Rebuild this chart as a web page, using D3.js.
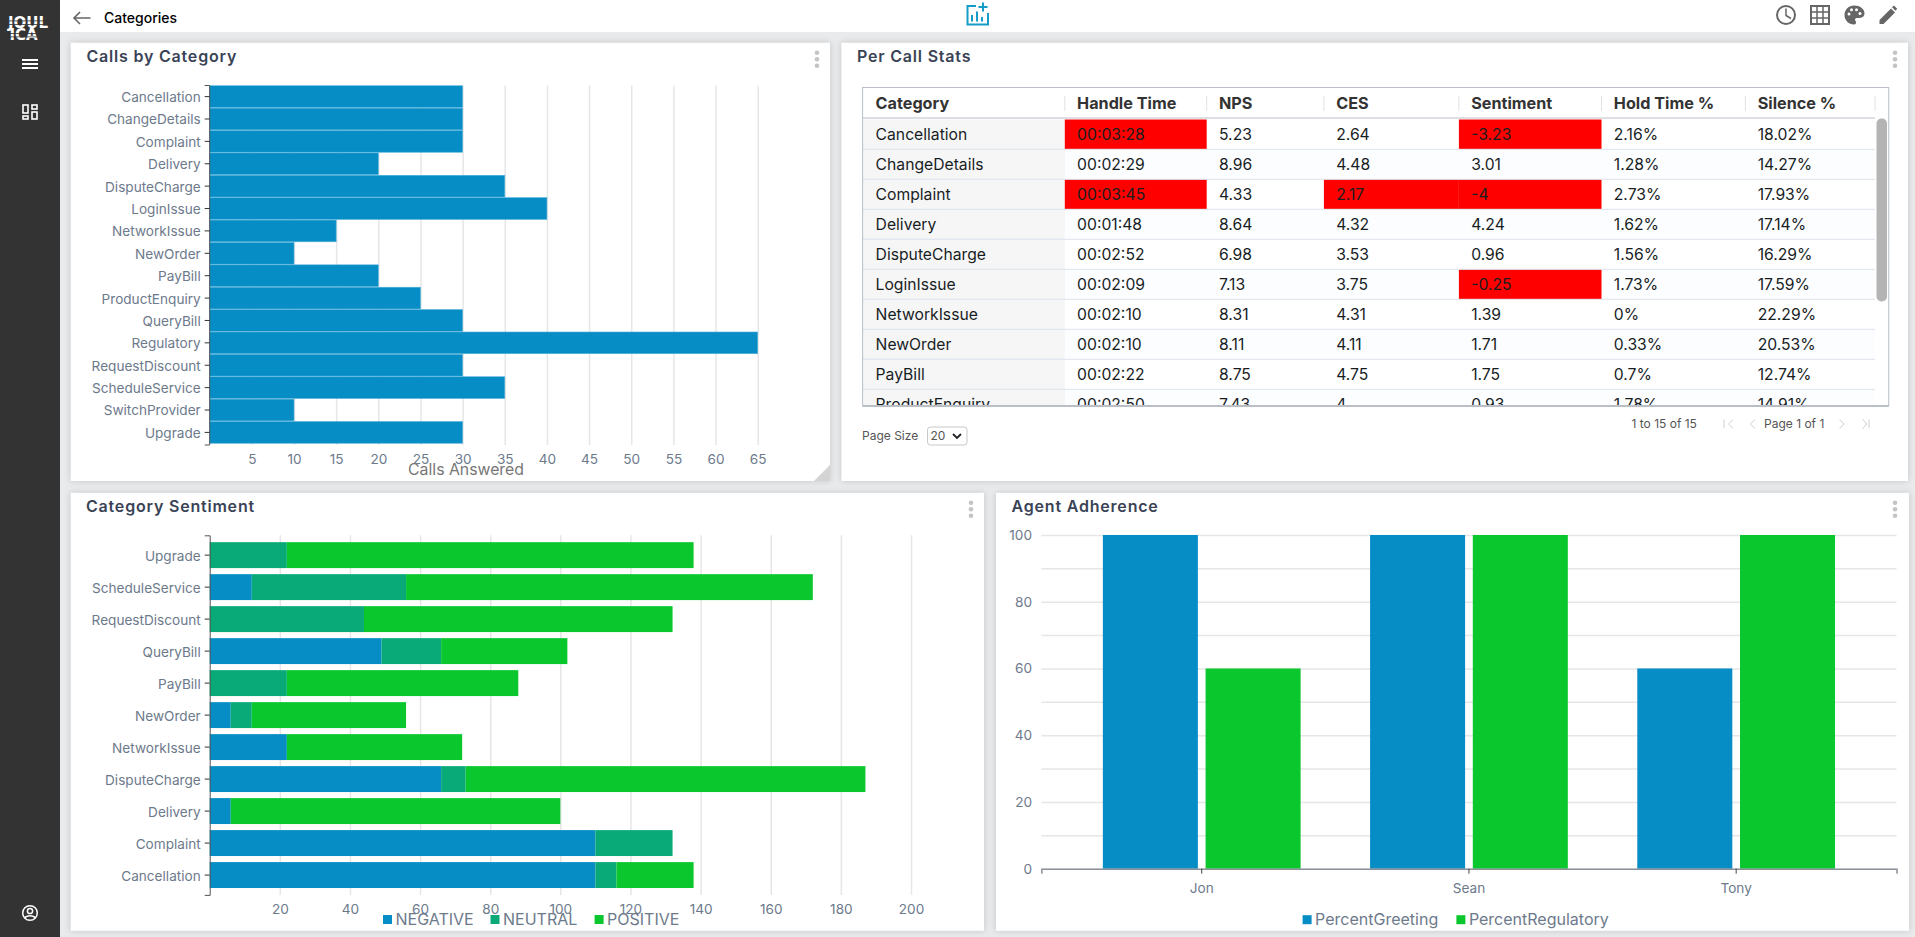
<!DOCTYPE html>
<html>
<head>
<meta charset="utf-8">
<title>Categories</title>
<script src="https://cdnjs.cloudflare.com/ajax/libs/d3/7.8.5/d3.min.js"></script>
<style>
  html, body { margin: 0; padding: 0; background: #e9eaec; overflow: hidden; }
  svg { display: block; font-family: Inter, "Noto Sans", sans-serif; }
  .card { fill: #fff; filter: drop-shadow(0 0 3px rgba(0, 0, 0, 0.16)); }
  .title { font-size: 16px; font-weight: 600; fill: #3a4356; letter-spacing: 0.8px; }
  .axis text { font-size: 13.6px; fill: #6d7a8c; font-family: Inter, sans-serif; }
  .grid line { stroke: #e6e6e6; stroke-width: 1.5; }
  .grid path { display: none; }
  .legend { font-size: 16px; fill: #6d7a8c; }
  .cell { font-size: 15.7px; fill: #181d1f; }
  .head { font-size: 16.2px; font-weight: 700; fill: #333; }
  .pager { font-size: 12px; fill: #555; }
</style>
</head>
<body>
<svg id="page" width="1915" height="937"></svg>
<script>
const BLUE = "#078dc6";
const TEAL = "#09aa78";
const GREEN = "#0ac72e";

// Calls by Category
const callCategories = ["Cancellation", "ChangeDetails", "Complaint", "Delivery", "DisputeCharge", "LoginIssue", "NetworkIssue", "NewOrder", "PayBill", "ProductEnquiry", "QueryBill", "Regulatory", "RequestDiscount", "ScheduleService", "SwitchProvider", "Upgrade"];
const callValues = [30, 30, 30, 20, 35, 40, 15, 10, 20, 25, 30, 65, 30, 35, 10, 30];
const callTicks = [5, 10, 15, 20, 25, 30, 35, 40, 45, 50, 55, 60, 65];

// Category Sentiment
const sentimentCategories = ["Upgrade", "ScheduleService", "RequestDiscount", "QueryBill", "PayBill", "NewOrder", "NetworkIssue", "DisputeCharge", "Delivery", "Complaint", "Cancellation"];
const sentimentNegative = [0, 12, 0, 49, 0, 6, 22, 66, 6, 110, 110];
const sentimentNeutral = [22, 44, 44, 17, 22, 6, 0, 7, 0, 22, 6];
const sentimentPositive = [116, 116, 88, 36, 66, 44, 50, 114, 94, 0, 22];
const sentimentKeys = ["NEGATIVE", "NEUTRAL", "POSITIVE"];
const sentimentTicks = [20, 40, 60, 80, 100, 120, 140, 160, 180, 200];

// Agent Adherence
const agents = ["Jon", "Sean", "Tony"];
const percentGreeting = [100, 100, 60];
const percentRegulatory = [60, 100, 100];
const adherenceKeys = ["PercentGreeting", "PercentRegulatory"];

// Per Call Stats table, only the rows that show in the scroll area
const tableHeaders = ["Category", "Handle Time", "NPS", "CES", "Sentiment", "Hold Time %", "Silence %"];
const tableCategory = ["Cancellation", "ChangeDetails", "Complaint", "Delivery", "DisputeCharge", "LoginIssue", "NetworkIssue", "NewOrder", "PayBill", "ProductEnquiry"];
const tableHandle = ["00:03:28", "00:02:29", "00:03:45", "00:01:48", "00:02:52", "00:02:09", "00:02:10", "00:02:10", "00:02:22", "00:02:50"];
const tableNps = ["5.23", "8.96", "4.33", "8.64", "6.98", "7.13", "8.31", "8.11", "8.75", "7.43"];
const tableCes = ["2.64", "4.48", "2.17", "4.32", "3.53", "3.75", "4.31", "4.11", "4.75", "4"];
const tableSentiment = ["-3.23", "3.01", "-4", "4.24", "0.96", "-0.25", "1.39", "1.71", "1.75", "0.93"];
const tableHold = ["2.16%", "1.28%", "2.73%", "1.62%", "1.56%", "1.73%", "0%", "0.33%", "0.7%", "1.78%"];
const tableSilence = ["18.02%", "14.27%", "17.93%", "17.14%", "16.29%", "17.59%", "22.29%", "20.53%", "12.74%", "14.91%"];
const redCells = [[0, 1], [0, 4], [2, 1], [2, 3], [2, 4], [5, 4]]; // row, column

const svg = d3.select("#page");

function addCard(x, y, w, h, title, titleX, dotsX) {
  svg.append("rect").attr("class", "card").attr("x", x).attr("y", y).attr("width", w).attr("height", h);
  svg.append("text").attr("class", "title").attr("x", titleX).attr("y", y + 14).attr("dy", "0.35em").text(title);
  [0, 1, 2].forEach((i) => {
    svg.append("circle").attr("cx", dotsX).attr("cy", y + 10 + i * 6.5).attr("r", 2.3).attr("fill", "#c4c4c4");
  });
}

function drawChrome() {
  svg.append("rect").attr("width", 60).attr("height", 937).attr("fill", "#333");
  svg.append("rect").attr("x", 60).attr("width", 1855).attr("height", 32).attr("fill", "#fff");

  // logo, the original has dark stripes cut through the letters
  const logo = svg.append("g").attr("fill", "#fff").attr("font-family", "DejaVu Sans").attr("font-weight", 700).attr("font-size", 15);
  logo.append("text").attr("x", 8).attr("y", 28).text("JOUL");
  logo.append("text").attr("x", 9.5).attr("y", 40).text("ICA");
  [20.5, 24, 33, 36.5].forEach((y) => {
    svg.append("rect").attr("x", 6).attr("y", y).attr("width", 44).attr("height", 0.8).attr("fill", "#333");
  });

  // menu
  [60, 64, 68].forEach((y) => {
    svg.append("rect").attr("x", 22).attr("y", y - 1).attr("width", 16).attr("height", 2).attr("fill", "#fff");
  });
  const dash = svg.append("g").attr("fill", "none").attr("stroke", "#fff").attr("stroke-width", 1.6);
  [[23, 105, 5, 8], [32, 105, 5, 4], [23, 116, 5, 3], [32, 112, 5, 7]].forEach((r) => {
    dash.append("rect").attr("x", r[0]).attr("y", r[1]).attr("width", r[2]).attr("height", r[3]);
  });
  const user = svg.append("g").attr("fill", "none").attr("stroke", "#fff").attr("stroke-width", 1.5);
  user.append("circle").attr("cx", 30).attr("cy", 913).attr("r", 7.3);
  user.append("circle").attr("cx", 30).attr("cy", 911).attr("r", 2.6);
  user.append("path").attr("d", "M24.5 917.5q5.5 -3.5 11 0");

  // top bar
  svg.append("path").attr("d", "M90.5 18H74M80 12L74 18L80 24").attr("fill", "none").attr("stroke", "#666").attr("stroke-width", 1.6);
  svg.append("text").attr("x", 104).attr("y", 18).attr("dy", "0.35em").attr("font-size", 14).attr("font-weight", 500).attr("fill", "#000").text("Categories");

  const add = svg.append("g").attr("fill", "none").attr("stroke", "#159cc8").attr("stroke-width", 2);
  add.append("path").attr("d", "M976 6H967.5V24.5H988V13");
  add.append("path").attr("d", "M983 2.5V11.5M978.5 7H987.5");
  add.append("path").attr("d", "M972 21.5V15M977 21.5V11.5M982 21.5V17");

  const icons = svg.append("g").attr("fill", "none").attr("stroke", "#666").attr("stroke-width", 2);
  icons.append("circle").attr("cx", 1786).attr("cy", 15).attr("r", 9);
  icons.append("path").attr("d", "M1786 8.5V15.5L1791 18.5").attr("stroke-width", 1.5);
  icons.append("rect").attr("x", 1811).attr("y", 6).attr("width", 18).attr("height", 18);
  icons.append("path").attr("d", "M1817 6V24M1823 6V24M1811 12H1829M1811 18H1829").attr("stroke-width", 1.5);
  svg.append("path").attr("fill", "#666").attr("fill-rule", "evenodd")
    .attr("d", "M1854 5.5c-5.3 0-9.5 4.2-9.5 9.5s4.2 9.5 9.5 9.5c1.5 0 2-1 2-2 0-1.5-1-1.7-1-3 0-1 .8-1.6 2-1.6h2.5c3 0 5-1.7 5-4.4 0-4.6-4.5-8-10.5-8z");
  [[1849, 14], [1851.5, 9.8], [1856.5, 9.8], [1860, 13.5]].forEach((p) => {
    svg.append("circle").attr("cx", p[0]).attr("cy", p[1]).attr("r", 1.5).attr("fill", "#fff");
  });
  svg.append("path").attr("fill", "#666").attr("d", "M1879.5 24v-4l11.5 -11.5l4 4L1883.5 24zM1892 7.2l2 -1.7l3.2 3.2l-1.7 2z");
}

function yBandAxis(g, y, x0) {
  const axis = g.append("g").attr("class", "axis").attr("transform", `translate(${x0},0)`)
    .call(d3.axisLeft(y).tickSize(5).tickPadding(4));
  axis.selectAll("line").attr("stroke", "#333");
  axis.selectAll("text").attr("dy", "0.4em");
  axis.select(".domain").attr("stroke", "#555");
  return axis;
}

function drawCalls() {
  const x = d3.scaleLinear().domain([0, 65]).range([209.7, 757.7]);
  const y = d3.scaleBand().domain(callCategories).range([85.3, 443.7]).paddingInner(0.03).paddingOuter(0.02);

  svg.append("g").attr("class", "axis grid").attr("transform", "translate(0,445)")
    .call(d3.axisBottom(x).tickValues(callTicks).tickSize(-359.5).tickPadding(9));

  svg.append("g").selectAll("rect").data(callCategories).join("rect")
    .attr("x", x(0))
    .attr("y", (d) => y(d))
    .attr("width", (d, i) => x(callValues[i]) - x(0))
    .attr("height", y.bandwidth())
    .attr("fill", BLUE)
    .attr("stroke", "#4fb0d8")
    .attr("stroke-width", 0.6);

  // axis line runs a little past the last band
  yBandAxis(svg, y, 209.7).select(".domain").attr("d", "M-5,85.5H0V445H-5");
  svg.append("text").attr("x", 466).attr("y", 469.5).attr("dy", "0.35em").attr("text-anchor", "middle")
    .attr("font-size", 15.8).attr("fill", "#777").text("Calls Answered");

  // resize handle in the corner of this card
  svg.append("path").attr("d", "M830 481V465L814 481Z").attr("fill", "#d4d4d4");
}

function drawSentiment() {
  const x = d3.scaleLinear().domain([0, 200]).range([209.7, 911]);
  const y = d3.scaleBand().domain(sentimentCategories).range([535.3, 894.9]).paddingInner(0.19).paddingOuter(0.215);

  svg.append("g").attr("class", "axis grid").attr("transform", "translate(0,894.9)")
    .call(d3.axisBottom(x).tickValues(sentimentTicks).tickSize(-359.6).tickPadding(9));

  const rows = sentimentCategories.map((c, i) => ({
    category: c,
    NEGATIVE: sentimentNegative[i],
    NEUTRAL: sentimentNeutral[i],
    POSITIVE: sentimentPositive[i],
  }));
  const color = d3.scaleOrdinal().domain(sentimentKeys).range([BLUE, TEAL, GREEN]);
  const stacked = d3.stack().keys(sentimentKeys)(rows);

  svg.append("g").selectAll("g").data(stacked).join("g")
    .attr("fill", (d) => color(d.key))
    .selectAll("rect").data((d) => d).join("rect")
    .attr("x", (d) => x(d[0]))
    .attr("y", (d) => y(d.data.category))
    .attr("width", (d) => x(d[1]) - x(d[0]))
    .attr("height", y.bandwidth());

  yBandAxis(svg, y, 209.7);

  const legendX = d3.scaleOrdinal().domain(sentimentKeys).range([383, 490.5, 594.6]);
  const legend = svg.append("g").selectAll("g").data(sentimentKeys).join("g")
    .attr("transform", (d) => `translate(${legendX(d)},919.5)`);
  legend.append("rect").attr("y", -4.5).attr("width", 9).attr("height", 9).attr("fill", (d) => color(d));
  legend.append("text").attr("class", "legend").attr("x", 12.5).attr("dy", "0.35em").text((d) => d);
}

function drawAdherence() {
  const x = d3.scaleBand().domain(agents).range([1041.4, 1896.5]).paddingInner(0.26).paddingOuter(0.23);
  const sub = d3.scaleBand().domain(adherenceKeys).range([0, x.bandwidth()]).paddingInner(0.075);
  const y = d3.scaleLinear().domain([0, 100]).range([868.7, 535]);
  const color = d3.scaleOrdinal().domain(adherenceKeys).range([BLUE, GREEN]);

  const grid = svg.append("g").attr("class", "grid").attr("transform", "translate(1041.4,0)")
    .call(d3.axisLeft(y).ticks(10).tickSize(-855.1).tickFormat(""));
  grid.selectAll("text").remove();

  svg.append("g").attr("class", "axis").attr("transform", "translate(1032,0)")
    .call(d3.axisLeft(y).tickValues([0, 20, 40, 60, 80, 100]).tickSize(0).tickPadding(0))
    .select(".domain").remove();

  const rows = agents.map((a, i) => ({ agent: a, PercentGreeting: percentGreeting[i], PercentRegulatory: percentRegulatory[i] }));
  svg.append("g").selectAll("g").data(rows).join("g")
    .attr("transform", (d) => `translate(${x(d.agent)},0)`)
    .selectAll("rect").data((d) => adherenceKeys.map((k) => ({ key: k, value: d[k] }))).join("rect")
    .attr("x", (d) => sub(d.key))
    .attr("y", (d) => y(d.value))
    .attr("width", sub.bandwidth())
    .attr("height", (d) => y(0) - y(d.value))
    .attr("fill", (d) => color(d.key));

  const axis = svg.append("g").attr("class", "axis").attr("transform", "translate(0,868.7)")
    .call(d3.axisBottom(x).tickSize(5).tickSizeOuter(5).tickPadding(10));
  axis.select(".domain").attr("stroke", "#8a8f98").attr("stroke-width", 1.5);
  axis.selectAll("line").attr("stroke", "#444");

  const legendX = d3.scaleOrdinal().domain(adherenceKeys).range([1302.6, 1456.4]);
  const legend = svg.append("g").selectAll("g").data(adherenceKeys).join("g")
    .attr("transform", (d) => `translate(${legendX(d)},919.7)`);
  legend.append("rect").attr("y", -4.5).attr("width", 9).attr("height", 9).attr("fill", (d) => color(d));
  legend.append("text").attr("class", "legend").attr("x", 12.5).attr("dy", "0.35em").text((d) => d);
}

function drawTable() {
  const columns = [tableCategory, tableHandle, tableNps, tableCes, tableSentiment, tableHold, tableSilence];
  const colEdges = [862.6, 1064.8, 1206.7, 1323.9, 1458.9, 1601.5, 1745.4, 1875];
  const rowCount = tableCategory.length;
  const y = d3.scaleBand().domain(d3.range(rowCount)).range([119.5, 119.5 + rowCount * 30]);
  const colX = d3.scaleOrdinal().domain(d3.range(8)).range(colEdges);
  const left = colEdges[0];
  const right = colEdges[7];

  svg.append("clipPath").attr("id", "rows").append("rect")
    .attr("x", left).attr("y", 118.3).attr("width", right - left).attr("height", 287);

  const t = svg.append("g");
  t.append("rect").attr("x", left).attr("y", 87.3).attr("width", 1888.7 - left).attr("height", 319).attr("fill", "#fff");

  const body = t.append("g").attr("clip-path", "url(#rows)");
  const rows = d3.range(rowCount);
  body.selectAll(".stripe").data(rows).join("rect").attr("class", "stripe")
    .attr("x", left).attr("y", (d) => y(d))
    .attr("width", right - left).attr("height", 30)
    .attr("fill", (d) => (d % 2 ? "#fcfdff" : "#fff"));
  body.selectAll(".first").data(rows).join("rect").attr("class", "first")
    .attr("x", left).attr("y", (d) => y(d))
    .attr("width", colX(1) - left).attr("height", 30)
    .attr("fill", "#f6f6f6");
  body.selectAll(".red").data(redCells).join("rect").attr("class", "red")
    .attr("x", (d) => colX(d[1])).attr("y", (d) => y(d[0]))
    .attr("width", (d) => colX(d[1] + 1) - colX(d[1])).attr("height", 29.5)
    .attr("fill", "#ff0000");
  body.selectAll(".rule").data(rows).join("line").attr("class", "rule")
    .attr("x1", left).attr("x2", right)
    .attr("y1", (d) => y(d) + 29.8).attr("y2", (d) => y(d) + 29.8)
    .attr("stroke", "#dde2eb");

  columns.forEach((col, c) => {
    const cx = colX(c) + (c === 0 ? 13 : 12.3);
    body.append("g").selectAll("text").data(col).join("text")
      .attr("class", "cell")
      .attr("x", cx)
      .attr("y", (d, i) => y(i) + 15.1)
      .attr("dy", "0.35em")
      .text((d) => d);
  });

  // header
  tableHeaders.forEach((h, c) => {
    t.append("text").attr("class", "head").attr("x", colX(c) + (c === 0 ? 13 : 12.3)).attr("y", 103.5).attr("dy", "0.35em").text(h);
    t.append("line").attr("x1", colX(c + 1)).attr("x2", colX(c + 1)).attr("y1", 96).attr("y2", 111).attr("stroke", "#dfe2e7");
  });
  t.append("line").attr("x1", left).attr("x2", right).attr("y1", 118).attr("y2", 118).attr("stroke", "#babfc7");

  // scrollbar and frame
  t.append("rect").attr("x", 1876.5).attr("y", 118.5).attr("width", 10.5).attr("height", 183).attr("rx", 5).attr("fill", "#b4b4b4");
  t.append("rect").attr("x", left).attr("y", 87.5).attr("width", 1888.7 - left).attr("height", 318.5).attr("fill", "none").attr("stroke", "#babfc7");
  t.append("rect").attr("x", left).attr("y", 405).attr("width", 1888.7 - left).attr("height", 2).attr("fill", "#babfc7");

  // paging
  svg.append("text").attr("class", "pager").attr("x", 1631.5).attr("y", 423.7).attr("dy", "0.35em").text("1 to 15 of 15");
  svg.append("text").attr("class", "pager").attr("x", 1764).attr("y", 423.7).attr("dy", "0.35em").text("Page 1 of 1");
  svg.append("path").attr("fill", "none").attr("stroke", "#d0d0d0").attr("stroke-width", 1)
    .attr("d", "M1724 419.5V428M1733 419.5L1728.5 424L1733 428.5M1755 419.5L1750.5 424L1755 428.5M1839.5 419.5L1844 424L1839.5 428.5M1862.5 419.5L1867 424L1862.5 428.5M1869 419.5V428");
  svg.append("text").attr("class", "pager").attr("x", 862).attr("y", 436).attr("dy", "0.35em").attr("fill", "#333").text("Page Size");
  svg.append("rect").attr("x", 927.5).attr("y", 427).attr("width", 39.5).attr("height", 18).attr("rx", 3).attr("fill", "#fff").attr("stroke", "#c8c8c8");
  svg.append("text").attr("class", "pager").attr("x", 930.5).attr("y", 436).attr("dy", "0.35em").attr("fill", "#222").text("20");
  svg.append("path").attr("d", "M953 434L957 438L961 434").attr("fill", "none").attr("stroke", "#222").attr("stroke-width", 1.8);
}

drawChrome();
addCard(70.7, 42.7, 759.3, 438.3, "Calls by Category", 86.5, 817);
addCard(841.4, 42.7, 1066.6, 438.3, "Per Call Stats", 857, 1895);
addCard(70.7, 492.8, 913.3, 438, "Category Sentiment", 86, 971);
addCard(996, 492.8, 913, 438, "Agent Adherence", 1011.6, 1895);
drawCalls();
drawTable();
drawSentiment();
drawAdherence();
</script>
</body>
</html>
